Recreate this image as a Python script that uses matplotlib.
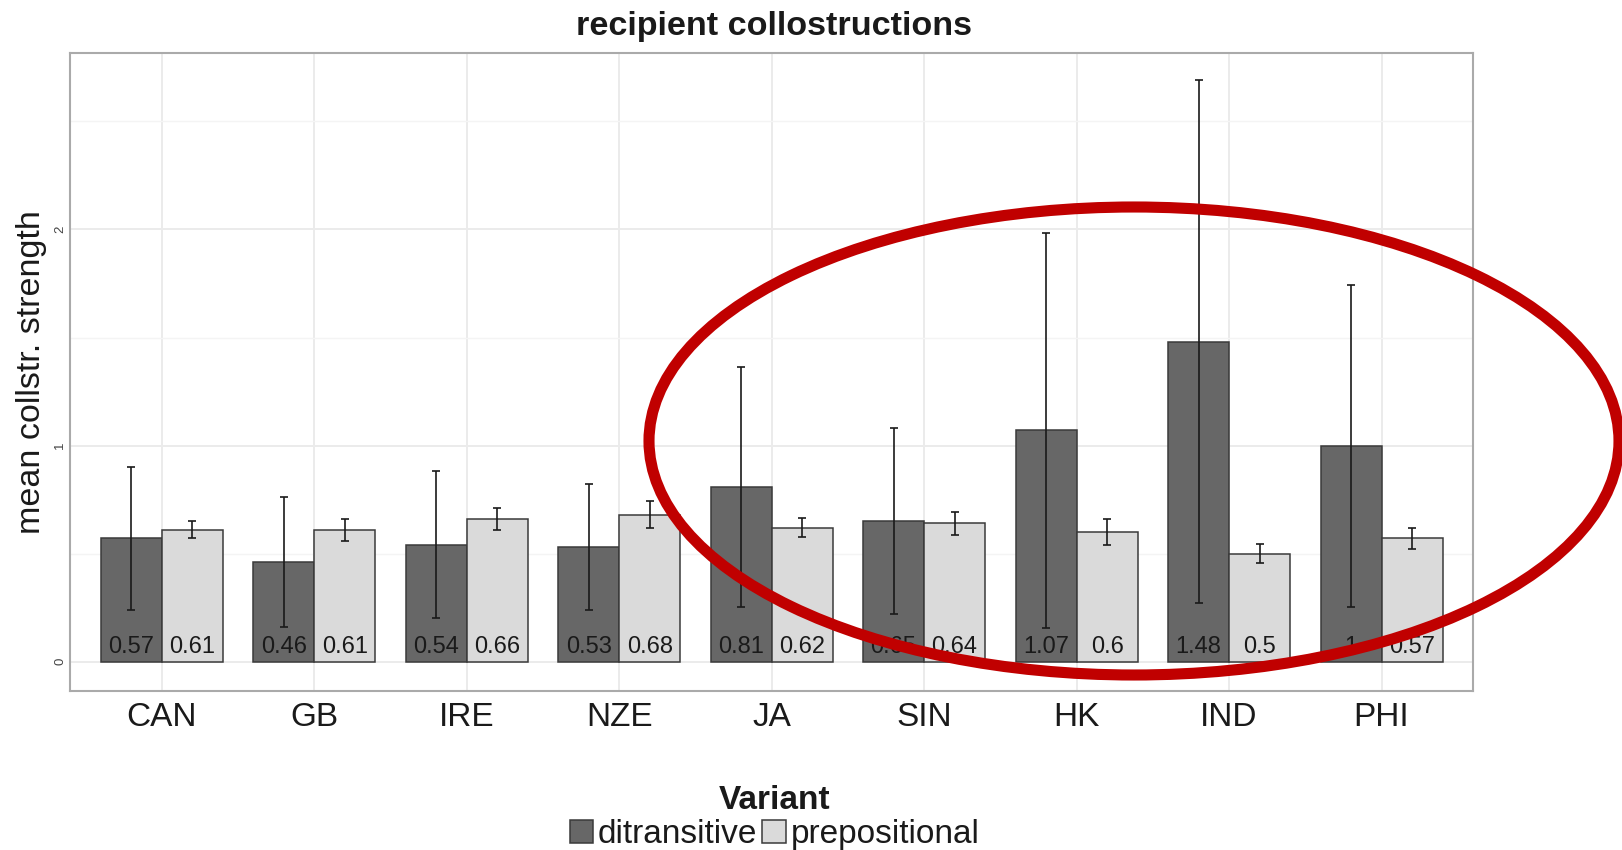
import matplotlib
matplotlib.use('Agg')
import matplotlib.pyplot as plt
from matplotlib.patches import Ellipse, Patch
import numpy as np

plt.rcParams['font.family'] = ['Liberation Sans', 'DejaVu Sans']

# Mean collostructional strength of recipients per variety
categories = ['CAN', 'GB', 'IRE', 'NZE', 'JA', 'SIN', 'HK', 'IND', 'PHI']
ditransitive = [0.57, 0.46, 0.54, 0.53, 0.81, 0.65, 1.07, 1.48, 1.0]
ditransitive_err = [0.33, 0.30, 0.34, 0.29, 0.555, 0.43, 0.915, 1.21, 0.745]
prepositional = [0.61, 0.61, 0.66, 0.68, 0.62, 0.64, 0.6, 0.5, 0.57]
prepositional_err = [0.04, 0.05, 0.05, 0.063, 0.045, 0.052, 0.06, 0.043, 0.048]
variants = ['ditransitive', 'prepositional']
y_ticks = [0, 1, 2]

DARK = '#676767'
LIGHT = '#dadada'
EDGE = '#3a3a3a'
TEXT = '#1a1a1a'

W, H = 1622, 850


def fmt(v):
    s = f"{v:.2f}".rstrip('0').rstrip('.')
    return s


fig = plt.figure(figsize=(W / 100, H / 100), dpi=100)
left, right, top, bottom = 70.3, 1473, 52.7, 690.7
ax = fig.add_axes([left / W, 1 - bottom / H, (right - left) / W, (bottom - top) / H])

x = np.arange(1, len(categories) + 1)
w = 0.4
series = [
    (ditransitive, ditransitive_err, -w / 2, DARK),
    (prepositional, prepositional_err, w / 2, LIGHT),
]
for vals, errs, off, color in series:
    pos = x + off
    ax.bar(pos, vals, width=w, color=color, edgecolor=EDGE, linewidth=1.1, zorder=2)
    ax.errorbar(pos, vals, yerr=errs, fmt='none', ecolor=TEXT, elinewidth=1.2,
                capsize=3, capthick=1.2, zorder=3)
    for px, v in zip(pos, vals):
        ax.text(px, 0.038, fmt(v), ha='center', va='baseline', fontsize=17,
                color=TEXT, zorder=4)

ax.set_xlim(0.4, len(categories) + 0.6)
ax.set_ylim(-0.1345, 2.818)
ax.set_xticks(x)
ax.set_xticklabels(categories, fontsize=24, color=TEXT)
ax.set_yticks(y_ticks)
ax.set_yticklabels([str(t) for t in y_ticks], fontsize=9.5, color='#444444', rotation=90,
                   va='center')
ax.set_yticks([0.5, 1.5, 2.5], minor=True)
ax.tick_params(axis='both', which='both', length=0)
ax.tick_params(axis='x', pad=8)
ax.tick_params(axis='y', pad=3)

ax.set_axisbelow(True)
ax.grid(which='major', color='#ebebeb', linewidth=1.4)
ax.grid(which='minor', axis='y', color='#f4f4f4', linewidth=1.0)
for sp in ax.spines.values():
    sp.set_color('#aaaaaa')
    sp.set_linewidth(1.5)

fig.text(774 / W, 1 - 27 / H, 'recipient collostructions', ha='center', va='center',
         fontsize=24.6, fontweight='bold', color=TEXT)
fig.text(32 / W, 1 - 372 / H, 'mean collstr. strength', ha='center', va='center',
         rotation=90, fontsize=24.5, color=TEXT)

handles = [Patch(facecolor=DARK, edgecolor=EDGE, linewidth=1.1),
           Patch(facecolor=LIGHT, edgecolor=EDGE, linewidth=1.1)]
leg = fig.legend(handles, variants, loc='upper center', bbox_to_anchor=(0.4775, 1 - 785 / H),
                 ncol=2, title='Variant', frameon=False, fontsize=24,
                 title_fontproperties={'weight': 'bold', 'size': 24},
                 handlelength=0.7, handleheight=0.7, handletextpad=0.15,
                 columnspacing=0.15, borderpad=0, borderaxespad=0, labelspacing=0.1)
for t in leg.get_texts():
    t.set_color(TEXT)
leg.get_title().set_color(TEXT)

# highlight around the outer-circle varieties
fig.add_artist(Ellipse((1134 / W, 1 - 441 / H), 970 / W, 468 / H,
                       transform=fig.transFigure, fill=False, edgecolor='#c00000',
                       linewidth=8, zorder=10))

fig.savefig('out.png', dpi=100)
